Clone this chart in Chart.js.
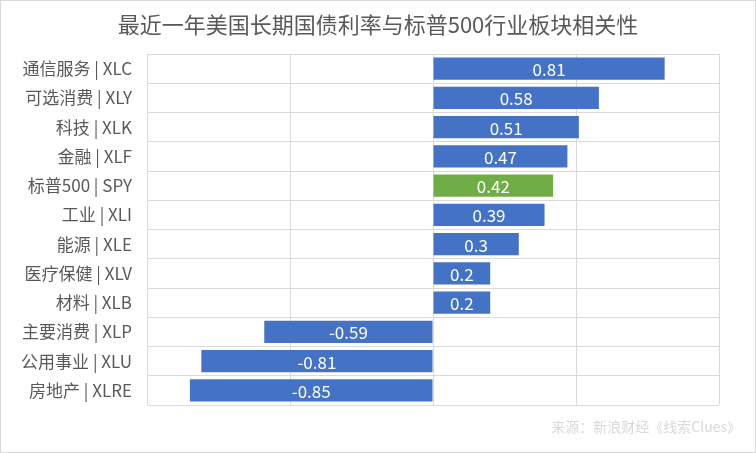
<!DOCTYPE html>
<html>
<head>
<meta charset="utf-8">
<script src="https://cdn.jsdelivr.net/npm/chart.js@4"></script>
<style>
  html, body { margin: 0; padding: 0; background: #fff; }
  #wrap { width: 756px; height: 453px; }
</style>
</head>
<body>
<div id="wrap"><canvas id="myChart"></canvas></div>
<script>
const categories = ['通信服务 | XLC', '可选消费 | XLY', '科技 | XLK', '金融 | XLF', '标普500 | SPY', '工业 | XLI',
    '能源 | XLE', '医疗保健 | XLV', '材料 | XLB', '主要消费 | XLP', '公用事业 | XLU', '房地产 | XLRE'];
const correlation = [0.81, 0.58, 0.51, 0.47, 0.42, 0.39, 0.3, 0.2, 0.2, -0.59, -0.81, -0.85];
const highlight = '标普500 | SPY';
const titleText = '最近一年美国长期国债利率与标普500行业板块相关性';
const sourceText = '来源：新浪财经《线索Clues》';

const font = '"Noto Sans CJK SC", "Noto Sans", sans-serif';

// white background, outer border, title and source note
const frame = {
    id: 'frame',
    beforeDraw(chart) {
        const c = chart.ctx;
        c.save();
        c.fillStyle = '#fff';
        c.fillRect(0, 0, chart.width, chart.height);
        c.restore();
    },
    afterDraw(chart) {
        const c = chart.ctx;
        c.save();
        c.strokeStyle = '#d9d9d9';
        c.lineWidth = 1;
        c.strokeRect(0.5, 0.5, chart.width - 1, chart.height - 1);
        c.textBaseline = 'middle';
        c.fillStyle = '#595959';
        c.font = '22px ' + font;
        c.textAlign = 'center';
        c.fillText(titleText, chart.width / 2, 25);
        c.fillStyle = '#d9d9d9';
        c.font = '14px ' + font;
        c.textAlign = 'right';
        c.fillText(sourceText, 741, 427);
        c.restore();
    }
};

// values written in the middle of each bar
const barLabels = {
    id: 'barLabels',
    afterDatasetsDraw(chart) {
        const c = chart.ctx;
        const meta = chart.getDatasetMeta(0);
        c.save();
        c.fillStyle = '#fff';
        c.font = '17px ' + font;
        c.textAlign = 'center';
        c.textBaseline = 'middle';
        meta.data.forEach((bar, i) => {
            const x = (bar.x + bar.base) / 2;
            c.fillText(String(correlation[i]), x, bar.y + 1);
        });
        c.restore();
    }
};

const ctx = document.getElementById('myChart').getContext('2d');
const myChart = new Chart(ctx, {
    type: 'bar',
    data: {
        labels: categories,
        datasets: [{
            data: correlation,
            backgroundColor: categories.map(l => l === highlight ? '#70ad47' : '#4472c4'),
            barPercentage: 0.76,
            categoryPercentage: 1
        }]
    },
    options: {
        indexAxis: 'y',
        responsive: true,
        maintainAspectRatio: false,
        animation: false,
        layout: { padding: { left: 0, right: 37, top: 54, bottom: 48 } },
        scales: {
            x: {
                min: -1,
                max: 1,
                ticks: { display: false, stepSize: 0.5 },
                grid: { color: '#d9d9d9', drawTicks: false },
                border: { display: false }
            },
            y: {
                afterFit(scale) { scale.width = 147; },
                ticks: { color: '#595959', font: { family: font, size: 17 }, padding: 15 },
                grid: { color: '#d9d9d9', drawTicks: false, offset: true },
                border: { color: '#d9d9d9' }
            }
        },
        plugins: {
            legend: { display: false },
            tooltip: { enabled: false },
            title: { display: false }
        }
    },
    plugins: [frame, barLabels]
});
</script>
</body>
</html>
